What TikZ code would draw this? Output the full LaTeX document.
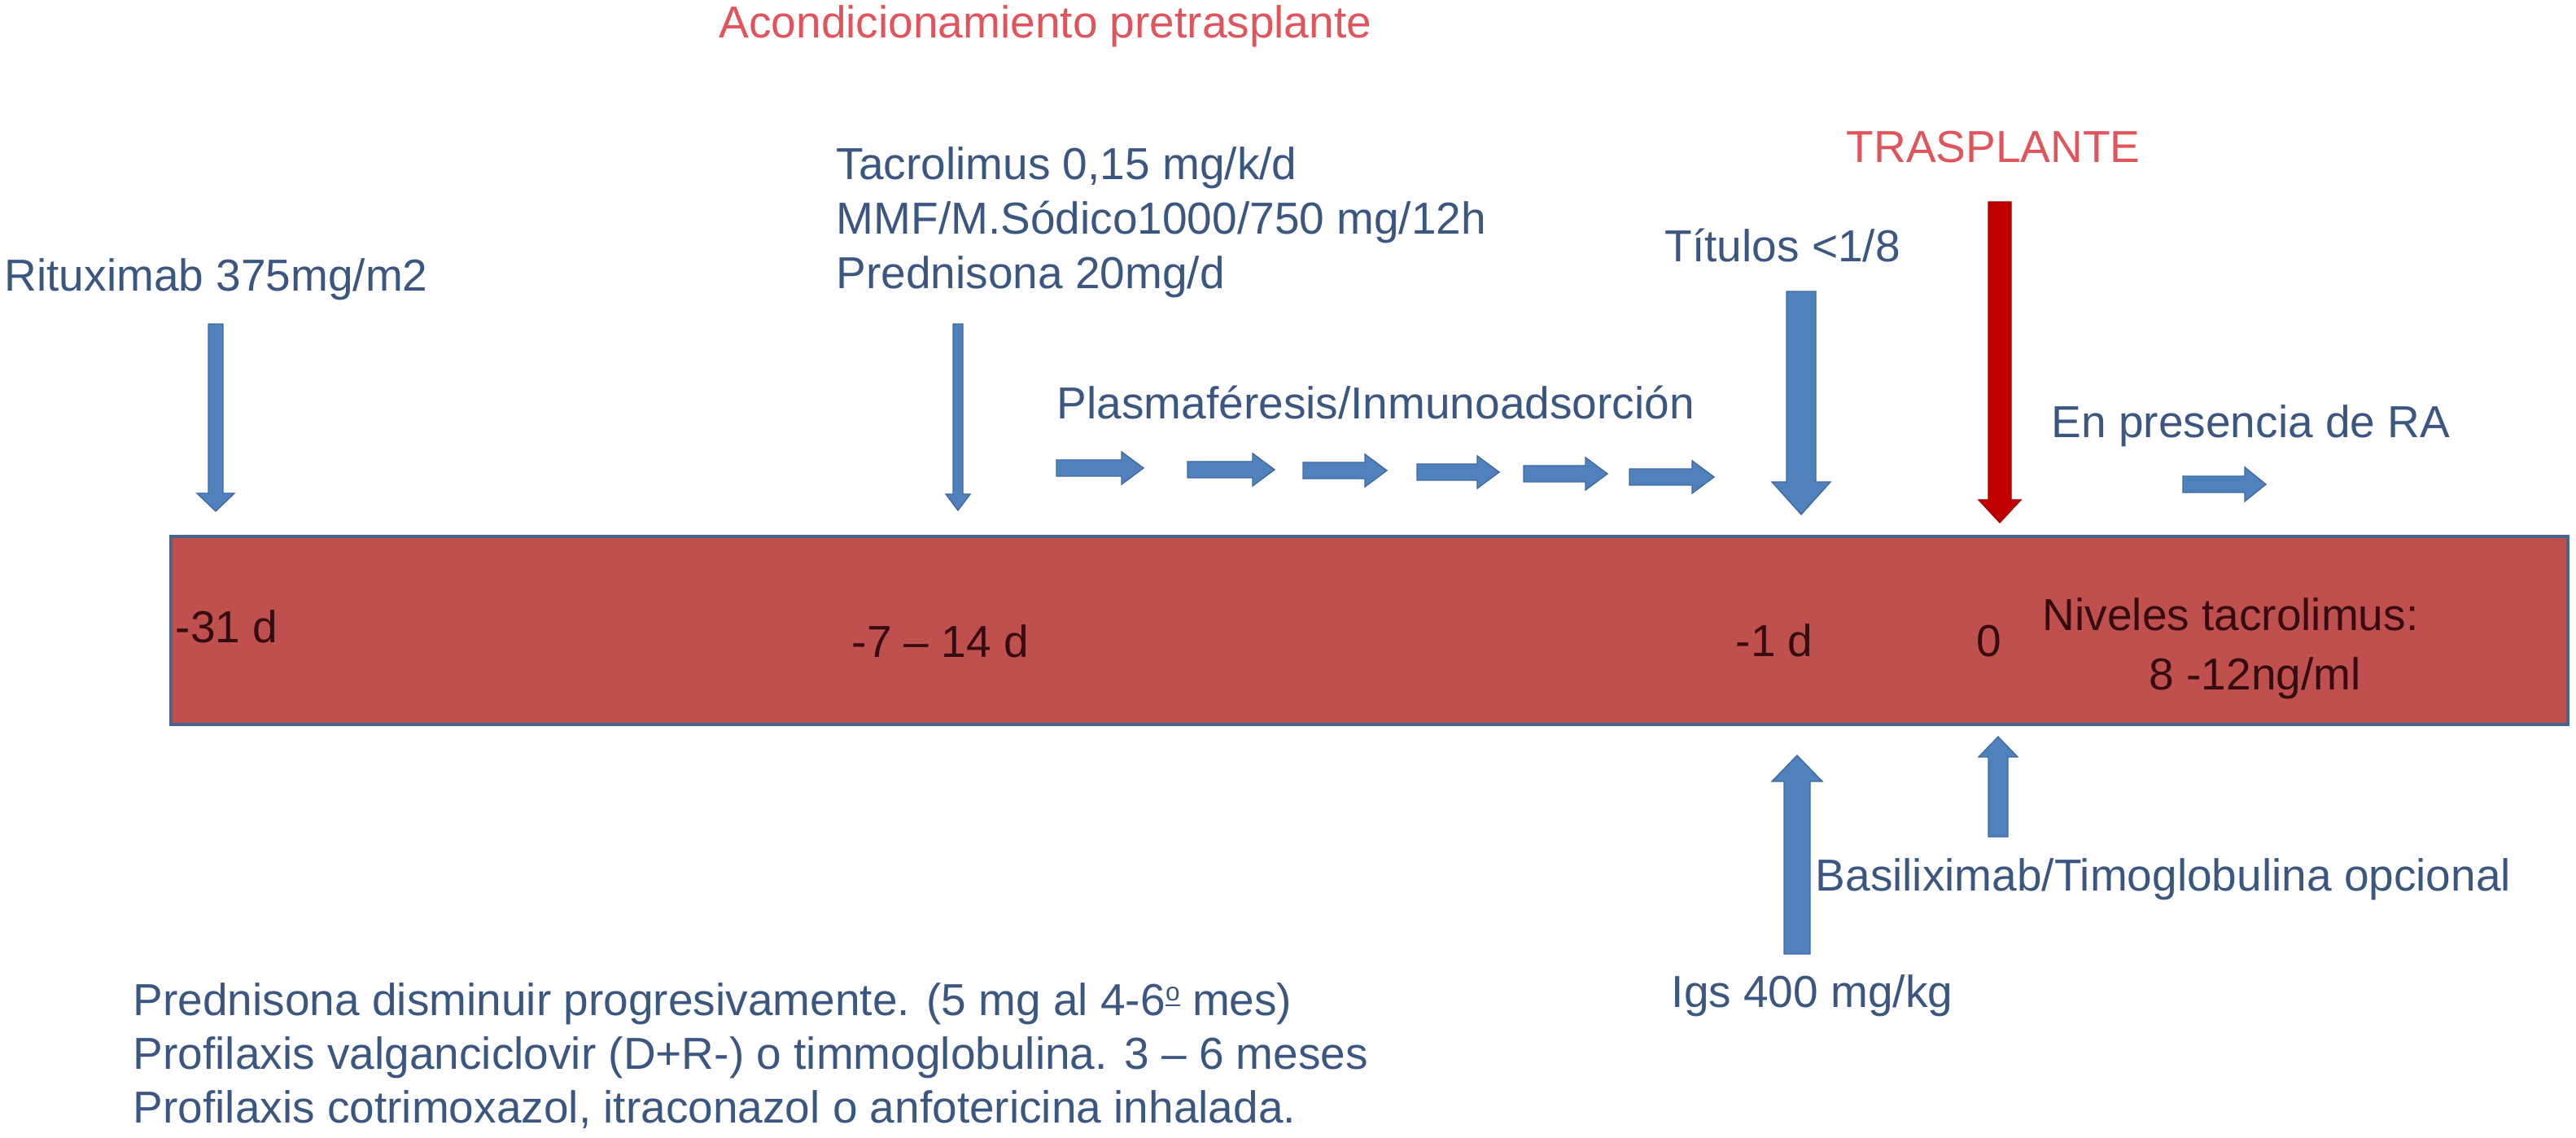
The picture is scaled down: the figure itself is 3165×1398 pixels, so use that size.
\documentclass[tikz,border=0pt]{standalone}
\usepackage{fontspec}
\setmainfont{Liberation Sans}
\definecolor{txtblue}{RGB}{59,86,128}
\definecolor{txtred}{RGB}{224,84,92}
\definecolor{txtdark}{RGB}{55,12,16}
\definecolor{boxred}{RGB}{192,80,77}
\definecolor{boxline}{RGB}{70,100,140}
\definecolor{arrowblue}{RGB}{79,129,189}
\definecolor{arrowline}{RGB}{65,105,160}
\definecolor{arrowred}{RGB}{192,0,0}
\begin{document}
\begin{tikzpicture}[x=0.01cm, y=-0.01cm,
        txt/.style={inner sep=0pt, anchor=base west, font=\fontsize{15.65}{19.1}\selectfont},
        blau/.style={txt, text=txtblue},
        rot/.style={txt, text=txtred},
        dunkel/.style={txt, text=txtdark},
        pfeilblau/.style={fill=arrowblue, draw=arrowline, line width=0.4pt},
        pfeilrot/.style={fill=arrowred, draw=arrowred!85!black, line width=0.4pt}]
        \useasboundingbox (0,0) rectangle (3165,1398);
        % Pfeile: Stil, x, Anfang, Spitze, halbe Schaftbreite, halbe Kopfbreite, Kopflaenge
        \def\runter#1#2#3#4#5#6#7{\filldraw[#1] (#2-#5,#3) -- (#2+#5,#3) -- (#2+#5,#4-#7) -- (#2+#6,#4-#7) -- (#2,#4) -- (#2-#6,#4-#7) -- (#2-#5,#4-#7) -- cycle;}
        \def\hoch#1#2#3#4#5#6#7{\filldraw[#1] (#2-#5,#3) -- (#2+#5,#3) -- (#2+#5,#4+#7) -- (#2+#6,#4+#7) -- (#2,#4) -- (#2-#6,#4+#7) -- (#2-#5,#4+#7) -- cycle;}
        \def\rechts#1#2#3#4#5#6#7{\filldraw[#1] (#3,#2-#5) -- (#4-#7,#2-#5) -- (#4-#7,#2-#6) -- (#4,#2) -- (#4-#7,#2+#6) -- (#4-#7,#2+#5) -- (#3,#2+#5) -- cycle;}
        % Balken
        \draw[fill=boxred, draw=boxline, line width=1.1pt] (210,659) rectangle (3155,890);
        % Pfeile oben
        \runter{pfeilblau}{265}{398}{628}{9}{23}{22}
        \runter{pfeilblau}{1177}{398}{627}{6}{15}{20}
        \runter{pfeilblau}{2213}{358}{632}{18}{36}{40}
        \runter{pfeilrot}{2457}{248}{642}{14}{26}{28}
        % Plasmaferese
        \foreach \xa/\xb/\ya in {1298/1405/575, 1459/1566/577, 1601/1704/578, 1741/1842/580, 1872/1975/582, 2002/2106/586}
            {\rechts{pfeilblau}{\ya}{\xa}{\xb}{10}{20}{27}}
        \rechts{pfeilblau}{595}{2682}{2784}{10}{21}{26}
        % Pfeile unten
        \hoch{pfeilblau}{2208}{1172}{928}{16}{31}{32}
        \hoch{pfeilblau}{2455}{1028}{905}{12}{24}{25}
        % Texte oben
        \node[rot] (acond) at (883,47) {Acondicionamiento pretrasplante};
        \node[rot] (trasp) at (2268,200) {TRASPLANTE};
        \node[blau] (ritux) at (5,358) {Rituximab 375mg/m2};
        \node[blau, align=left] (tacro) at (1027,355) {Tacrolimus 0,15 mg/k/d\\MMF/M.Sódico1000/750 mg/12h\\Prednisona 20mg/d};
        \node[blau] (titul) at (2045,322) {Títulos <1/8};
        \node[blau] (plasma) at (1298,515) {Plasmaféresis/Inmunoadsorción};
        \node[blau] (presen) at (2520,538) {En presencia de RA};
        % Texte im Balken
        \node[dunkel] (d31) at (215,790) {-31 d};
        \node[dunkel] (d7) at (1046,808) {-7 – 14 d};
        \node[dunkel] (d1) at (2132,807) {-1 d};
        \node[dunkel] (d0) at (2428,807) {0};
        \node[dunkel] (niv1) at (2509,775) {Niveles tacrolimus:};
        \node[dunkel] (niv2) at (2640,848) {8 -12ng/ml};
        % Texte unten
        \node[blau] (basil) at (2230,1095) {Basiliximab/Timoglobulina opcional};
        \node[blau] (igs) at (2053,1238) {Igs 400 mg/kg};
        \node[blau, align=left, font=\fontsize{15.65}{18.9}\selectfont] (profil) at (163,1380) {Prednisona disminuir progresivamente. (5 mg al 4-6\raisebox{0.6ex}{\fontsize{9}{9}\selectfont\underline{o}} mes)\\Profilaxis valganciclovir (D+R-) o timmoglobulina. 3 – 6 meses\\Profilaxis cotrimoxazol, itraconazol o anfotericina inhalada.};
    \end{tikzpicture}
\end{document}
